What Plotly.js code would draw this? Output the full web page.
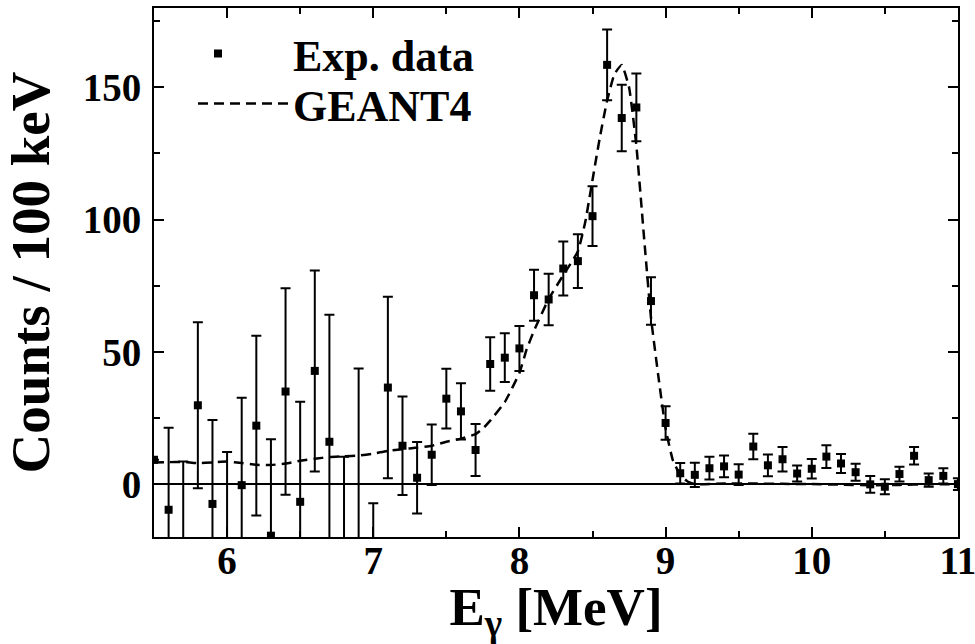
<!DOCTYPE html>
<html>
<head>
<meta charset="utf-8">
<script src="https://cdn.plot.ly/plotly-3.0.1.min.js"></script>
<style>html,body{margin:0;padding:0;background:#fff;}#chart{width:975px;height:644px;}</style>
</head>
<body>
<div id="chart"></div>
<script>
// Experimental data (counts / 100 keV)
var expEnergy = [5.5,5.6,5.7,5.8,5.9,6.0,6.1,6.2,6.3,6.4,6.5,6.6,6.7,6.8,6.9,7.0,7.1,7.2,7.3,7.4,7.5,7.6,7.7,7.8,7.9,8.0,8.1,8.2,8.3,8.4,8.5,8.6,8.7,8.8,8.9,9.0,9.1,9.2,9.3,9.4,9.5,9.6,9.7,9.8,9.9,10.0,10.1,10.2,10.3,10.4,10.5,10.6,10.7,10.8,10.9,11.0];
var expCounts = [9.2,-9.7,-24,29.8,-7.5,-21.5,-0.4,22.1,-19.5,35,-6.7,42.8,16,-30,-25,-45,36.5,14.5,2.4,11.1,32.3,27.5,12.9,45.4,47.8,51.3,71.4,69.8,81.5,84.3,101.3,158.5,138.4,142.4,69.2,23.1,4.1,3.5,6.0,6.7,3.6,14.2,7.1,9.4,4.0,5.8,10.4,7.8,4.5,-0.1,-1.0,3.8,10.7,1.5,3.1,0];
var expErr = [0,31,32.5,31.4,31.7,33.6,33,34,36.5,39,37.8,38,48,40.3,68.7,37.8,34.3,18.6,13.5,11.4,11.3,10.6,9.8,10.1,9.2,8.5,9.6,9.7,10.2,10.2,11.3,13.4,12.6,12.8,9,6.3,3.9,4.6,4.3,4.1,3.9,4.8,4.1,4.6,3.0,3.7,4.3,3.6,3.2,3.2,2.8,2.8,3.3,2.5,2.9,2.2];

// GEANT4 simulation
var simEnergy = [5.5,5.6,5.7,5.8,5.9,6.0,6.1,6.2,6.3,6.4,6.5,6.6,6.7,6.8,6.9,7.0,7.1,7.2,7.3,7.4,7.5,7.6,7.7,7.75,7.8,7.9,8.0,8.05,8.1,8.2,8.3,8.4,8.45,8.5,8.55,8.6,8.65,8.7,8.75,8.8,8.85,8.9,8.95,9.0,9.05,9.1,9.15,9.2,9.4,9.6,9.8,10.0,10.2,10.4,10.6,10.8,11.0];
var simCounts = [8.2,8.3,8.4,7.9,8.2,8.5,8.0,7.3,7.2,7.8,8.8,9.6,10.2,10.5,10.8,11.5,12.6,13.2,13.8,14.5,16.0,17.2,18.9,21,24,31,42,51,58,70,79,88,99,115,131,145,155,158.5,150,128,95,63,41,21,9,3.5,1,0,0.2,0.2,0.1,0,-0.2,-0.4,-0.3,-0.1,0];

var xTicks = [6, 7, 8, 9, 10, 11];
var yTicks = [0, 50, 100, 150];
var labelX = 'E<sub>γ</sub> [MeV]';
var labelY = 'Counts / 100 keV';
var nameExp = 'Exp. data';
var nameSim = 'GEANT4';

var font = "'Liberation Serif', 'Times New Roman', Times, serif";
var legFont = {family: font, size: 44, color: '#000', weight: 'bold'};

var traces = [
  {
    x: expEnergy, y: expCounts, name: nameExp, type: 'scatter', mode: 'markers',
    marker: {symbol: 'square', size: 8, color: '#000'},
    error_y: {type: 'data', array: expErr, visible: true, color: '#000', thickness: 2, width: 5},
    cliponaxis: true, legend: 'legend'
  },
  {
    x: simEnergy, y: simCounts, name: nameSim, type: 'scatter', mode: 'lines',
    line: {color: '#000', width: 2.5, dash: '10px,6px', shape: 'spline', smoothing: 0.4},
    legend: 'legend2'
  }
];

var axisCommon = {
  showline: true, linecolor: '#000', linewidth: 2, mirror: 'ticks',
  ticks: 'inside', ticklen: 10, tickwidth: 2, tickcolor: '#000',
  showgrid: false, ticklabeloverflow: 'allow',
  tickfont: {family: font, size: 39, color: '#000', weight: 'bold'}
};

var layout = {
  width: 975, height: 644,
  margin: {l: 154, r: 17, t: 8, b: 107},
  paper_bgcolor: '#fff', plot_bgcolor: '#fff',
  font: {family: font, color: '#000'},
  showlegend: true,
  legend: {
    x: (143 - 154) / 804, y: 1 - (54 - 8) / 529, xanchor: 'left', yanchor: 'middle',
    bgcolor: 'rgba(0,0,0,0)', borderwidth: 0, font: legFont, itemwidth: 140
  },
  legend2: {
    x: (193 - 154) / 804, y: 1 - (104 - 8) / 529, xanchor: 'left', yanchor: 'middle',
    bgcolor: 'rgba(0,0,0,0)', borderwidth: 0, font: legFont, itemwidth: 90
  },
  xaxis: Object.assign({}, axisCommon, {
    range: [5.5, 11.0005], tickvals: xTicks, zeroline: false, ticklabelstandoff: -12,
    minor: {dtick: 0.5, ticks: 'inside', ticklen: 6, tickwidth: 2, tickcolor: '#000'},
    title: {text: labelX, font: {family: font, size: 53, color: '#000', weight: 'bold'}}
  }),
  yaxis: Object.assign({}, axisCommon, {
    range: [-20, 180], tickvals: yTicks, ticklabelstandoff: 3, automargin: true,
    zeroline: true, zerolinecolor: '#000', zerolinewidth: 1.5,
    minor: {dtick: 25, ticks: 'inside', ticklen: 6, tickwidth: 2, tickcolor: '#000'},
    title: {text: labelY, font: {family: font, size: 55, color: '#000', weight: 'bold'}, standoff: 30}
  })
};

Plotly.newPlot('chart', traces, layout, {displayModeBar: false, staticPlot: true});
</script>
</body>
</html>
